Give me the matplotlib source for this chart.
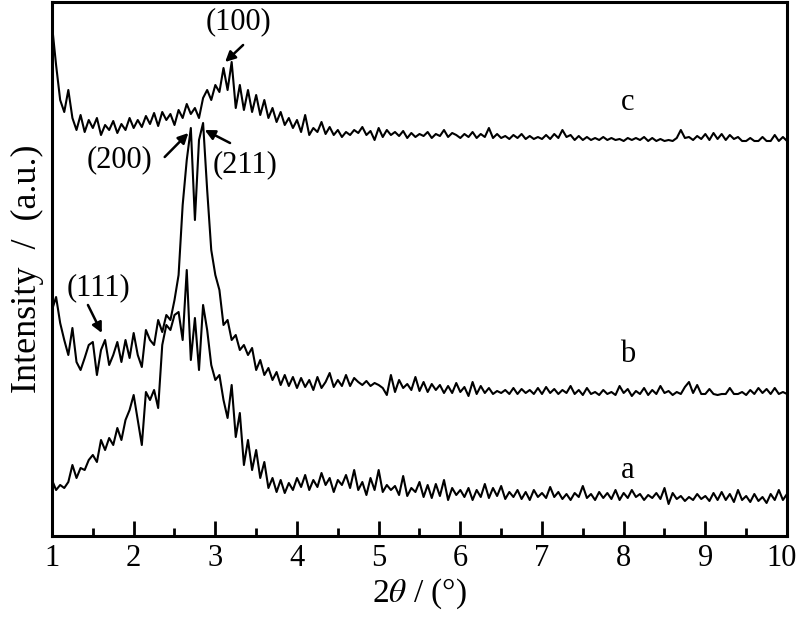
import numpy as np
import matplotlib
matplotlib.use("Agg")
import matplotlib.pyplot as plt
import matplotlib.transforms as mtransforms

plt.rcParams["font.family"] = ["Liberation Serif", "DejaVu Serif"]
plt.rcParams["mathtext.fontset"] = "stix"

# 2theta grid, 0.05 deg step
two_theta = np.arange(181) * 0.05 + 1.0

# intensities (a.u., stacked offsets already included)
curve_a = [56, 46, 51, 48, 54, 71, 58, 68, 66, 76,
           81, 74, 96, 86, 98, 91, 108, 96, 116, 126,
           141, 116, 91, 144, 136, 146, 128, 191, 211, 206,
           221, 224, 196, 266, 176, 218, 166, 231, 206, 171,
           156, 161, 136, 118, 151, 99, 123, 71, 96, 66,
           86, 58, 74, 48, 58, 44, 56, 43, 53, 46,
           58, 49, 61, 46, 56, 49, 63, 51, 58, 44,
           56, 51, 61, 48, 66, 46, 54, 41, 58, 46,
           66, 44, 51, 46, 50, 41, 60, 40, 48, 44,
           54, 39, 51, 38, 52, 40, 56, 36, 48, 41,
           46, 39, 48, 36, 46, 39, 52, 38, 48, 40,
           50, 37, 44, 39, 46, 37, 44, 36, 46, 39,
           43, 38, 49, 39, 44, 37, 42, 36, 43, 39,
           50, 38, 42, 36, 44, 38, 43, 37, 46, 36,
           43, 38, 46, 39, 42, 36, 41, 38, 43, 37,
           48, 32, 43, 37, 40, 35, 39, 36, 42, 37,
           40, 35, 43, 36, 44, 36, 42, 34, 46, 36,
           40, 34, 42, 35, 39, 33, 42, 36, 46, 36,
           42]

curve_b = [226, 239, 213, 196, 181, 208, 174, 166, 178, 191,
           194, 161, 186, 196, 171, 181, 194, 174, 196, 178,
           203, 181, 169, 206, 196, 191, 216, 204, 221, 216,
           236, 261, 331, 376, 408, 316, 396, 413, 346, 286,
           261, 246, 211, 216, 196, 201, 186, 191, 181, 188,
           166, 176, 161, 168, 156, 164, 151, 161, 150, 159,
           148, 158, 149, 156, 146, 159, 148, 154, 163, 149,
           156, 150, 161, 150, 158, 154, 151, 155, 150, 153,
           151, 148, 141, 161, 144, 156, 148, 152, 146, 159,
           145, 154, 144, 152, 146, 151, 143, 150, 143, 153,
           144, 149, 140, 154, 142, 150, 143, 148, 142, 145,
           143, 146, 142, 148, 142, 147, 143, 146, 142, 148,
           142, 149, 143, 147, 142, 146, 143, 150, 142, 146,
           141, 148, 142, 144, 141, 146, 142, 144, 141, 150,
           143, 147, 140, 145, 142, 148, 141, 146, 142, 150,
           143, 145, 141, 144, 142, 149, 154, 143, 151, 142,
           142, 147, 142, 141, 142, 142, 148, 142, 142, 144,
           141, 146, 142, 148, 143, 147, 142, 148, 142, 144,
           142]

curve_c = [511, 471, 436, 424, 446, 418, 406, 421, 404, 416,
           408, 418, 401, 411, 406, 415, 403, 412, 406, 418,
           408, 416, 409, 420, 412, 423, 410, 424, 416, 422,
           411, 426, 418, 432, 422, 428, 418, 438, 446, 436,
           451, 444, 468, 446, 474, 428, 451, 426, 446, 424,
           441, 421, 436, 418, 428, 414, 424, 411, 418, 408,
           416, 404, 421, 401, 408, 404, 414, 402, 409, 401,
           406, 399, 404, 401, 406, 403, 409, 401, 405, 396,
           408, 399, 406, 401, 404, 400, 405, 398, 403, 399,
           402, 400, 404, 398, 402, 400, 406, 399, 403, 401,
           398, 402, 399, 404, 398, 402, 399, 408, 398, 402,
           398, 400, 397, 401, 398, 402, 397, 400, 397, 399,
           397, 401, 397, 402, 398, 406, 399, 401, 396, 400,
           396, 399, 396, 398, 396, 399, 396, 398, 396, 397,
           395, 398, 396, 398, 396, 399, 395, 398, 395, 397,
           395, 396, 395, 398, 406, 398, 399, 396, 400, 397,
           402, 396, 403, 397, 402, 396, 401, 397, 399, 395,
           395, 398, 395, 395, 399, 395, 395, 401, 395, 399,
           395]

curve_names = ["a", "b", "c"]
# where the curve letters sit (2theta, intensity)
name_pos = [(8.05, 66), (8.05, 181), (8.05, 433)]

# peak labels: text, text centre, arrow tail, arrow tip
peak_labels = [
    ("(100)", (3.28, 514), (3.34, 491), (3.12, 474)),
    ("(200)", (1.83, 376), (2.38, 379), (2.67, 403)),
    ("(211)", (3.36, 371), (3.18, 393), (2.87, 406)),
    ("(111)", (1.57, 248), (1.44, 231), (1.61, 203)),
]

fig = plt.figure(figsize=(8, 6.21), dpi=100)
ax = fig.add_axes([52 / 800, 85 / 621, 735 / 800, 534 / 621])

for ys in (curve_a, curve_b, curve_c):
    ax.plot(two_theta, ys, color="black", lw=1.5)

for name, (x, y) in zip(curve_names, name_pos):
    ax.text(x, y, name, fontsize=22, ha="center", va="center")

for label, txt, tail, tip in peak_labels:
    ax.text(txt[0], txt[1], label, fontsize=22, ha="center", va="center")
    ax.annotate("", xy=tip, xytext=tail,
                arrowprops=dict(arrowstyle="-|>", color="black", lw=1.8,
                                mutation_scale=15, shrinkA=0, shrinkB=0))

ax.set_xlim(1, 10)
ax.set_ylim(0, 534)
ax.set_xticks(np.arange(1, 11))
ax.set_xticks(np.arange(1.5, 10, 1.0), minor=True)
ax.set_yticks([])
ax.tick_params(axis="x", which="major", direction="in", length=11, width=2,
               labelsize=22, pad=6, top=False)
ax.tick_params(axis="x", which="minor", direction="in", length=6, width=2, top=False)
for sp in ax.spines.values():
    sp.set_linewidth(2.2)

# pull the "10" in a little so it stays inside the canvas
last = ax.get_xticklabels()[-1]
last.set_transform(last.get_transform()
                   + mtransforms.ScaledTranslation(-5 / 100, 0, fig.dpi_scale_trans))

ax.set_xlabel("2$\\theta$ / (°)", fontsize=24, labelpad=2)
ax.set_ylabel("Intensity  /  (a.u.)", fontsize=26, labelpad=6)

fig.savefig("out.png", dpi=100)
